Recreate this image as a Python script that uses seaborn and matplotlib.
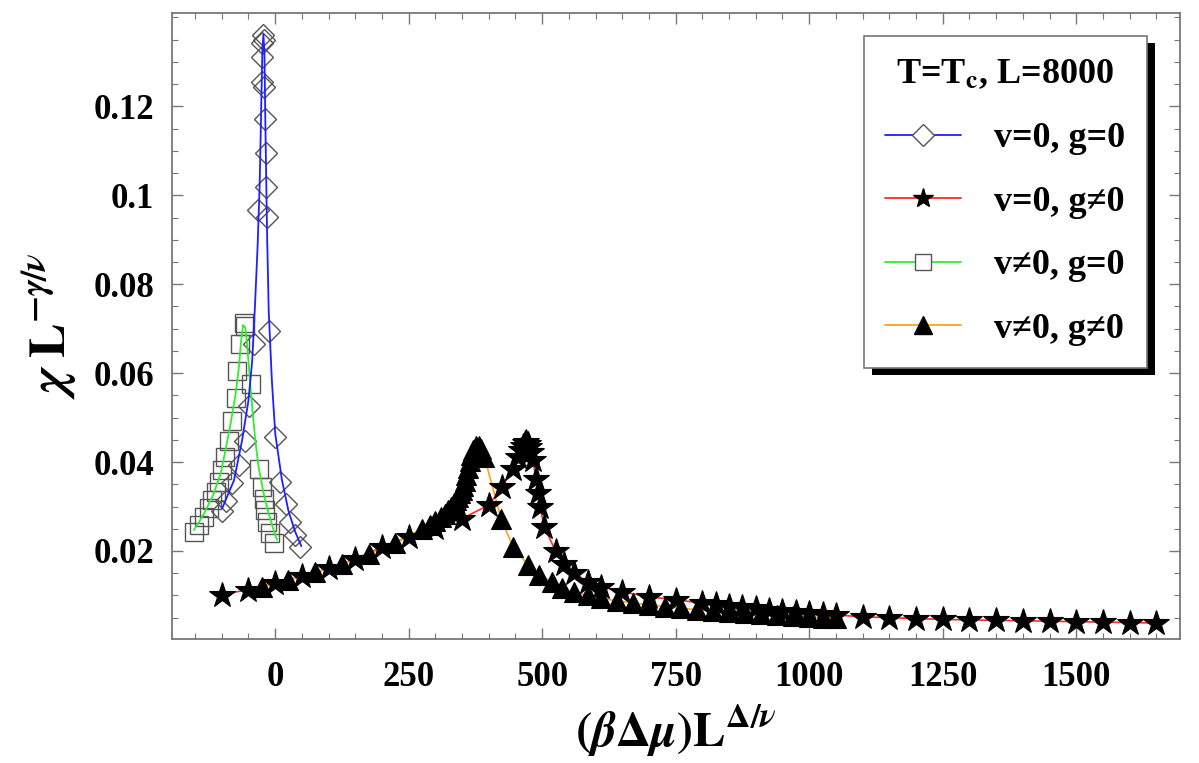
import matplotlib
matplotlib.use("Agg")
import matplotlib.pyplot as plt
import seaborn as sns
from matplotlib.lines import Line2D
from matplotlib.patches import Rectangle
from matplotlib.ticker import MultipleLocator

# v=0, g=0 : open diamonds + blue fit
dia_x = [-100, -92, -80, -68, -57, -49, -40, -32, -24.5, -25, -24, -22.5,
         -21.5, -21, -19.6, -17.5, -16.2, -15, -11, 0, 10, 19.5, 28.5, 38, 47]
dia_y = [0.0290, 0.0313, 0.0352, 0.0394, 0.0448, 0.0527, 0.0666, 0.0967, 0.1255, 0.1310, 0.1342, 0.1361,
         0.1350, 0.1243, 0.1172, 0.1095, 0.1019, 0.0952, 0.0694, 0.0456, 0.0355, 0.0305, 0.0266, 0.0237, 0.0210]
blue_x = [-99, -90, -77, -62, -50, -43, -38, -33, -29, -26, -24, -22, -20, -18.5, -17, -15, -12,
          -6, 0.3, 12.7, 25, 37.6, 49]
blue_y = [0.0296, 0.0322, 0.0359, 0.0448, 0.0538, 0.0627, 0.0745, 0.0880, 0.1020, 0.1200, 0.1320, 0.1362,
          0.1320, 0.1180, 0.1060, 0.0910, 0.0739, 0.0581, 0.0463, 0.0360, 0.0290, 0.0243, 0.0211]

# v!=0, g=0 : open squares + green fit
sq_x = [-152, -143, -133, -124, -118, -111.5, -105, -99, -93, -87, -80.5, -74, -71, -65, -59, -57,
        -46, -31, -24.5, -21.5, -18.3, -15.3, -9, -3]
sq_y = [0.0243, 0.0258, 0.0277, 0.0296, 0.0314, 0.0333, 0.0355, 0.0381, 0.0411, 0.0448, 0.0493, 0.0545,
        0.0605, 0.0665, 0.0712, 0.0705, 0.0575, 0.0385, 0.0344, 0.0318, 0.0292, 0.0266, 0.0240, 0.0217]
green_x = [-152, -133, -115, -102, -93, -83.5, -74, -68, -63.7, -60, -55.6, -52.6, -48, -43, -37,
           -31, -21.4, -12, -2.8, 3.4]
green_y = [0.0247, 0.0284, 0.0329, 0.0374, 0.0426, 0.0486, 0.0553, 0.0612, 0.0672, 0.0708, 0.0702,
           0.0665, 0.0598, 0.0523, 0.0448, 0.0389, 0.0329, 0.0284, 0.0247, 0.0225]

# v=0, g!=0 : filled stars + red line
star_x = [-100, -50, 0, 50, 100, 150, 200, 250, 300, 350, 400, 425, 445, 455, 460, 464, 467, 470,
          473, 476, 479, 483, 488, 492, 496, 504, 525, 541, 560, 585, 610, 650, 700, 750, 800, 825,
          850, 875, 900, 925, 950, 975, 1000, 1025, 1050, 1100, 1150, 1200, 1250, 1300, 1350, 1400,
          1450, 1500, 1550, 1600, 1650]
star_y = [0.0102, 0.0113, 0.0127, 0.0143, 0.0161, 0.0182, 0.0209, 0.0232, 0.0252, 0.0273, 0.0303,
          0.0344, 0.0385, 0.0412, 0.0428, 0.0437, 0.0442, 0.0444, 0.0441, 0.0434, 0.0422, 0.0404,
          0.0363, 0.0330, 0.0300, 0.0254, 0.0200, 0.0170, 0.0150, 0.0131, 0.0120, 0.0108, 0.0097,
          0.0090, 0.0083, 0.0080, 0.0077, 0.0074, 0.0071, 0.0068, 0.0066, 0.0063, 0.0061, 0.0058,
          0.0056, 0.0052, 0.0050, 0.0048, 0.0046, 0.0045, 0.0044, 0.0043, 0.0042, 0.0041, 0.0040,
          0.0039, 0.0038]

# v!=0, g!=0 : filled triangles + orange line
tri_x = [-25, 25, 75, 125, 175, 225, 275, 290, 300, 311, 318, 324, 330, 334, 338, 342, 346, 349,
         352, 355, 358, 361, 364, 367, 371, 376, 382, 386, 392, 423, 445, 473, 494, 519, 538, 560,
         585, 610, 640, 670, 700, 730, 760, 790, 820, 850, 880, 910, 940, 970, 1000, 1025, 1050]
tri_y = [0.0120, 0.0135, 0.0152, 0.0170, 0.0193, 0.0218, 0.0250, 0.0259, 0.0267, 0.0277, 0.0284,
         0.0292, 0.0300, 0.0307, 0.0314, 0.0322, 0.0330, 0.0338, 0.0347, 0.0358, 0.0370, 0.0386,
         0.0402, 0.0416, 0.0427, 0.0435, 0.0437, 0.0430, 0.0411, 0.0273, 0.0210, 0.0169, 0.0146,
         0.0131, 0.0116, 0.0108, 0.0100, 0.0094, 0.0088, 0.0083, 0.0079, 0.0075, 0.0071, 0.0068,
         0.0065, 0.0062, 0.0060, 0.0058, 0.0056, 0.0054, 0.0052, 0.0050, 0.0049]

yticks = [0.02, 0.04, 0.06, 0.08, 0.1, 0.12]
ytick_labels = ["0.02", "0.04", "0.06", "0.08", "0.1", "0.12"]
xticks = [0, 250, 500, 750, 1000, 1250, 1500]
labels = ["v=0, g=0", "v=0, g\u22600", "v\u22600, g=0", "v\u22600, g\u22600"]

sns.set_style("ticks")
plt.rcParams["font.family"] = ["Liberation Serif", "DejaVu Serif"]
plt.rcParams["font.weight"] = "bold"
plt.rcParams["mathtext.fontset"] = "stix"
for key in ["text.color", "axes.labelcolor", "xtick.labelcolor", "ytick.labelcolor"]:
    plt.rcParams[key] = "black"

BLUE, RED, GREEN, ORANGE = "#1f1fff", "#ff2a2a", "#2eee2e", "#ffa21a"
GREY = "#555555"

fig, ax = plt.subplots(figsize=(11.99, 7.63), dpi=100)
fig.subplots_adjust(left=0.1435, right=0.984, bottom=0.1625, top=0.983)

common = dict(ax=ax, estimator=None, sort=False, legend=False)
open_mk = dict(linestyle="none", markerfacecolor="none", markeredgecolor=GREY, markeredgewidth=1.0)
full_mk = dict(linestyle="none", markerfacecolor="black", markeredgecolor="black", markeredgewidth=0.8)

# lines under the filled markers
sns.lineplot(x=star_x, y=star_y, color=RED, lw=1.2, zorder=2, **common)
sns.lineplot(x=tri_x, y=tri_y, color=ORANGE, lw=1.2, zorder=2, **common)
sns.lineplot(x=star_x, y=star_y, marker="*", markersize=19, color="black", zorder=3, **full_mk, **common)
sns.lineplot(x=tri_x, y=tri_y, marker="^", markersize=14, color="black", zorder=3, **full_mk, **common)

# open markers, then fits on top
sns.lineplot(x=sq_x, y=sq_y, marker="s", markersize=13, color=GREY, zorder=3, **open_mk, **common)
sns.lineplot(x=dia_x, y=dia_y, marker="D", markersize=11, color=GREY, zorder=3, **open_mk, **common)
sns.lineplot(x=green_x, y=green_y, color=GREEN, lw=1.3, zorder=4, **common)
sns.lineplot(x=blue_x, y=blue_y, color=BLUE, lw=1.3, zorder=4, **common)

ax.set_xlim(-193, 1694)
ax.set_ylim(0.0002, 0.141)
ax.set_xticks(xticks)
ax.xaxis.set_minor_locator(MultipleLocator(50))
ax.set_yticks(yticks)
ax.set_yticklabels(ytick_labels)
ax.yaxis.set_minor_locator(MultipleLocator(0.005))
ax.tick_params(which="both", direction="in", top=True, right=True, color="#777777")
ax.tick_params(which="major", length=8, width=1.0, labelsize=25)
ax.tick_params(which="minor", length=4.5, width=0.8)
ax.tick_params(axis="x", pad=16)
ax.tick_params(axis="y", pad=13)
for lab in ax.get_xticklabels() + ax.get_yticklabels():
    lab.set_fontweight("bold")
for sp in ax.spines.values():
    sp.set_color("#777777")
    sp.set_linewidth(1.3)

ax.set_xlabel(r"$\mathbf{(}\beta\mathbf{\Delta}\mu\mathbf{)L}^{\Delta/\nu}$", fontsize=35, labelpad=6)
ax.set_ylabel(r"$\chi\ \mathbf{L}^{-\gamma/\nu}$", fontsize=37, labelpad=10)

handles = [
    Line2D([], [], color=BLUE, lw=1.3, marker="D", markersize=11, markerfacecolor="white",
           markeredgecolor=GREY),
    Line2D([], [], color=RED, lw=1.3, marker="*", markersize=15, markerfacecolor="black",
           markeredgecolor="black"),
    Line2D([], [], color=GREEN, lw=1.3, marker="s", markersize=11, markerfacecolor="white",
           markeredgecolor=GREY),
    Line2D([], [], color=ORANGE, lw=1.3, marker="^", markersize=13, markerfacecolor="black",
           markeredgecolor="black"),
]
leg = ax.legend(handles, labels, title=r"T=T$_{\mathbf{c}}$, L=8000", loc="upper right",
                bbox_to_anchor=(0.967, 0.963), borderaxespad=0, fancybox=False, framealpha=1,
                edgecolor="#777777", fontsize=26, title_fontsize=26, labelspacing=0.84,
                handlelength=2.1, handletextpad=0.9, borderpad=0.6)
leg.get_title().set_fontweight("bold")
leg.get_frame().set_linewidth(1.2)
leg.set_zorder(10)

# hard black drop shadow behind the legend box
fig.canvas.draw()
bb = leg.get_window_extent().transformed(ax.transAxes.inverted())
dx, dy = 8 / ax.bbox.width, 7 / ax.bbox.height
ax.add_artist(Rectangle((bb.x0 + dx, bb.y0 - dy), bb.width, bb.height, transform=ax.transAxes,
                        facecolor="black", edgecolor="none", zorder=9))

fig.savefig("out.png", dpi=100)
